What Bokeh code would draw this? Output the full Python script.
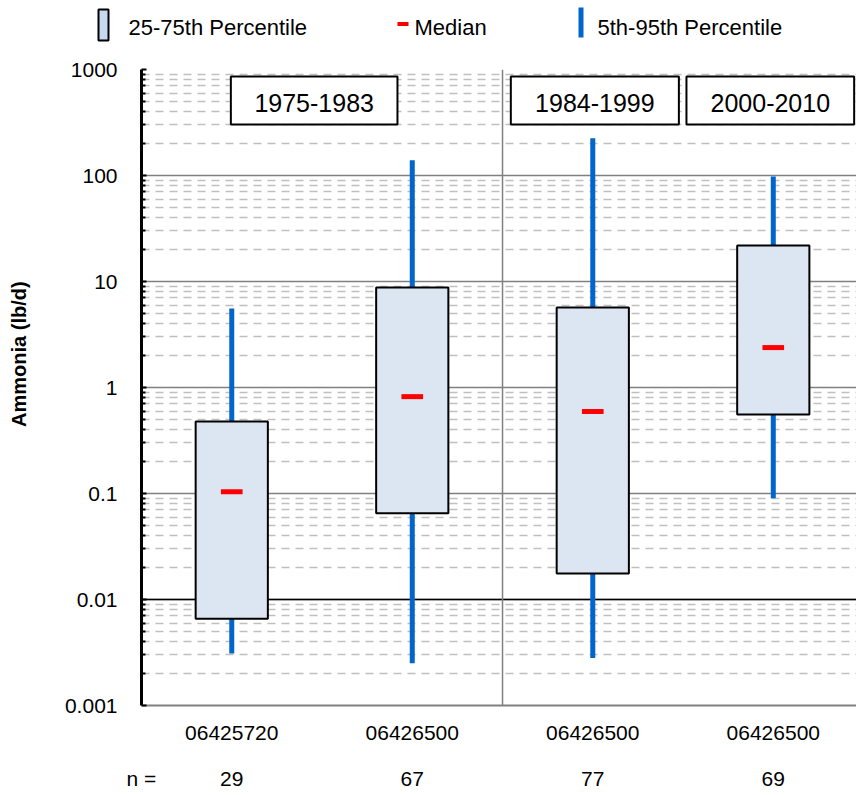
from bokeh.plotting import figure
from bokeh.models import (Range1d, FixedTicker, Span, Label, BoxAnnotation, LinearAxis,
                          ColumnDataSource, CustomJSTickFormatter)
from bokeh.embed import file_html
from bokeh.resources import INLINE
from bokeh.core.properties import value

# ---------------- data ----------------
sites = ["06425720", "06426500", "06426500", "06426500"]
n_counts = [29, 67, 77, 69]
p05 = [0.0031, 0.0025, 0.0028, 0.090]
p25 = [0.0066, 0.065, 0.0176, 0.556]
p50 = [0.104, 0.82, 0.594, 2.38]
p75 = [0.477, 8.8, 5.7, 21.9]
p95 = [5.56, 139.0, 224.0, 98.0]
periods = ["1975-1983", "1984-1999", "2000-2010"]
y_ticks = [0.001, 0.01, 0.1, 1, 10, 100, 1000]
legend_labels = ["25-75th Percentile", "Median", "5th-95th Percentile"]
y_title = "Ammonia (lb/d)"
n_prefix = "n ="

# ---------------- layout / style constants ----------------
FONT = "Liberation Sans"
BOX_FILL = "#dce6f2"
WHISKER = "#0066cc"
MEDIAN = "#ff0000"
GRID_MAJOR = "#808080"
GRID_MINOR = "#bfbfbf"
W = 856
LEG_H = 58
MAIN_H = 737
period_box_x = [(0.495, 1.418), (2.046, 2.977), (3.019, 3.948)]
period_box_y = (581, 629)       # screen px above frame bottom
separator_after = 2             # boundary between 2nd and 3rd category
black_ref = 0.01
TITLE_SHIFT = "\u00a0" * 12     # nudges the axis title upwards, as in the reference

xs = [i + 0.5 for i in range(len(sites))]
src = ColumnDataSource(dict(x=xs, p05=p05, p25=p25, p50=p50, p75=p75, p95=p95,
                            left=[x - 0.2 for x in xs], right=[x + 0.2 for x in xs]))

# ---------------- legend strip ----------------
leg = figure(width=W, height=LEG_H, x_range=Range1d(0, W), y_range=Range1d(LEG_H, 0),
             x_axis_location=None, y_axis_location=None, min_border=0,
             outline_line_color=None, toolbar_location=None, output_backend="svg")
leg.grid.visible = False
leg.quad(left=[98], right=[108], top=[9], bottom=[40], fill_color="#c6d9f1",
         line_color="black", line_width=2)
leg.quad(left=[397], right=[408], top=[21.5], bottom=[25.5], fill_color=MEDIAN, line_color=None)
leg.quad(left=[578], right=[583], top=[7], bottom=[37], fill_color=WHISKER, line_color=None)
leg.text(x=[128, 414, 597], y=[26.5, 26.5, 26.5], text=legend_labels,
         text_font=value(FONT), text_font_size="22px", text_baseline="middle",
         text_align="left", text_color="black")

# ---------------- main chart ----------------
p = figure(width=W, height=MAIN_H, x_range=Range1d(0, 3.961), y_range=Range1d(0.001, 1000),
           y_axis_type="log", output_backend="svg", toolbar_location=None,
           min_border_left=141, min_border_right=0, min_border_top=11, min_border_bottom=90,
           outline_line_color=None)

minor = [m * 10.0 ** k for k in range(-3, 3) for m in range(2, 10)]
p.yaxis.ticker = FixedTicker(ticks=y_ticks, minor_ticks=minor)
p.yaxis.formatter = CustomJSTickFormatter(code="return String(tick);")
p.yaxis.axis_line_color = "black"
p.yaxis.axis_line_width = 3
p.yaxis.major_tick_in = 5
p.yaxis.major_tick_out = 0
p.yaxis.minor_tick_in = 4
p.yaxis.minor_tick_out = 0
p.yaxis.major_tick_line_color = "black"
p.yaxis.major_tick_line_width = 2
p.yaxis.minor_tick_line_color = "black"
p.yaxis.minor_tick_line_width = 2
p.yaxis.major_label_standoff = 24
p.yaxis.major_label_text_font = FONT
p.yaxis.major_label_text_font_size = "21px"
p.yaxis.major_label_text_color = "black"
p.yaxis.axis_label = TITLE_SHIFT + y_title
p.yaxis.axis_label_text_font = FONT
p.yaxis.axis_label_text_font_size = "20px"
p.yaxis.axis_label_text_font_style = "bold"
p.yaxis.axis_label_text_color = "black"
p.yaxis.axis_label_standoff = 32

p.xaxis.ticker = FixedTicker(ticks=xs)
p.xaxis.formatter = CustomJSTickFormatter(args=dict(labels=sites),
                                          code="return labels[Math.round(tick - 0.5)];")
p.xaxis.axis_line_color = GRID_MAJOR
p.xaxis.axis_line_width = 2
p.xaxis.major_tick_line_color = None
p.xaxis.minor_tick_line_color = None
p.xaxis.major_tick_out = 0
p.xaxis.major_tick_in = 0
p.xaxis.minor_tick_out = 0
p.xaxis.major_label_standoff = 20
p.xaxis.major_label_text_font = FONT
p.xaxis.major_label_text_font_size = "21px"
p.xaxis.major_label_text_color = "black"

# second row below: sample counts, "n =" sits at the axis start
n_axis = LinearAxis(ticker=FixedTicker(ticks=[0.0] + xs),
                    formatter=CustomJSTickFormatter(
                        args=dict(labels=[str(n) for n in n_counts], prefix=n_prefix),
                        code="if (tick < 0.25) { return prefix; } return labels[Math.round(tick - 0.5)];"),
                    axis_line_color=None, major_tick_line_color=None, minor_tick_line_color=None,
                    major_tick_out=0, major_tick_in=0, minor_tick_out=0, minor_tick_in=0,
                    major_label_standoff=24, major_label_text_font=FONT,
                    major_label_text_font_size="21px", major_label_text_color="black")
p.add_layout(n_axis, "below")

p.xgrid.grid_line_color = None
p.ygrid.grid_line_color = GRID_MAJOR
p.ygrid.grid_line_width = 1.5
p.ygrid.minor_grid_line_color = GRID_MINOR
p.ygrid.minor_grid_line_width = 1.5
p.ygrid.minor_grid_line_dash = "8 6"

p.add_layout(Span(location=black_ref, dimension="width", line_color="black",
                  line_width=1.5, level="underlay"))
p.add_layout(Span(location=separator_after, dimension="height", line_color=GRID_MAJOR,
                  line_width=1.5, level="underlay"))

p.segment(x0="x", y0="p05", x1="x", y1="p95", source=src, line_color=WHISKER, line_width=5)
p.quad(left="left", right="right", bottom="p25", top="p75", source=src,
       fill_color=BOX_FILL, line_color="black", line_width=2)
p.rect(x="x", y="p50", width=0.12, height=5, height_units="screen", source=src,
       fill_color=MEDIAN, line_color=None)

for (l, r), txt in zip(period_box_x, periods):
    p.add_layout(BoxAnnotation(left=l, right=r, bottom=period_box_y[0], top=period_box_y[1],
                               left_units="data", right_units="data",
                               bottom_units="screen", top_units="screen",
                               fill_color="white", fill_alpha=1.0,
                               line_color="black", line_width=2, line_alpha=1.0))
    p.add_layout(Label(x=(l + r) / 2, y=603, x_units="data", y_units="screen", text=txt,
                       text_align="center", text_baseline="middle",
                       text_font=FONT, text_font_size="25px", text_color="black"))

open("out.html", "w").write(file_html([leg, p], INLINE))
